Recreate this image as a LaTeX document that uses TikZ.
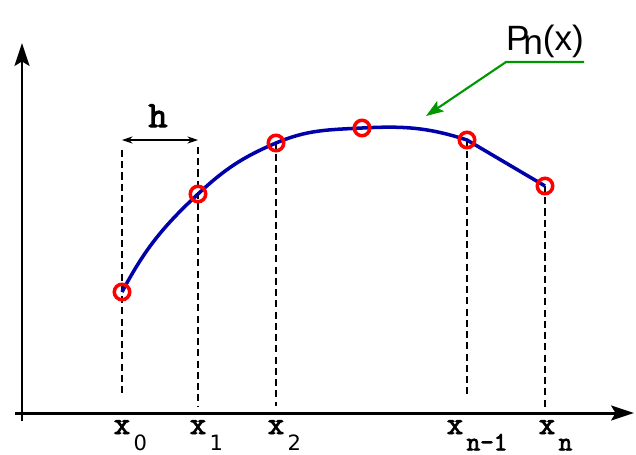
\documentclass[tikz,border=0pt]{standalone}
\usepackage{fontspec}
\usepackage{xcolor}
\usepackage{tikz}
\usetikzlibrary{arrows.meta}

\setmonofont{Latin Modern Mono}[AutoFakeBold=3]
\newfontfamily\labelsans{Liberation Sans}
\newfontfamily\digitsans{DejaVu Sans}
\definecolor{curveblue}{RGB}{0,0,170}
\definecolor{calloutgreen}{RGB}{0,150,0}
\newcommand{\lowsub}[1]{\rlap{\kern2pt\raisebox{-9.3pt}{#1}}}

\begin{document}
\begin{tikzpicture}[x=0.02cm, y=-0.02cm,
      axis/.style={line width=1.7pt, -{Stealth[length=13pt, width=8.5pt, inset=2.5pt]}},
      guide/.style={dash pattern=on 4pt off 2.4pt, line width=0.6pt},
      poly/.style={draw=curveblue, line width=2pt},
      knot/.style={circle, draw=red, line width=2pt, minimum size=8.8pt, inner sep=0pt},
      callout/.style={draw=calloutgreen, line width=1.2pt},
      xlab/.style={font=\fontsize{18}{18}\selectfont\ttfamily\bfseries, anchor=base, inner sep=0pt}]
    \useasboundingbox (0,0) rectangle (636,454);
    % axes
    \coordinate (xa) at (15,413);  \coordinate (xb) at (634,413);
    \coordinate (ya) at (22,421);  \coordinate (yb) at (22,43);
    \draw[axis] (xa) -- (xb);
    \draw[axis] (ya) -- (yb);
    % interpolation points
    \foreach \n/\px/\py in {0/122/292, 1/198/194, 2/276/143, 3/362/128, 4/467/140, 5/545/186} {
      \coordinate (c\n) at (\px,\py);
    }
    % guide lines down to the axis
    \foreach \n/\px/\ya/\yb in {0/122/150/395, 1/198/147/406, 2/276/143/406, 4/467/140/398, 5/545/186/410} {
      \coordinate (t\n) at (\px,\ya);
      \coordinate (b\n) at (\px,\yb);
      \draw[guide] (t\n) -- (b\n);
    }
    % step h
    \coordinate (ha) at (122,140);  \coordinate (hb) at (198,140);
    \draw[line width=0.6pt, {Stealth[length=6pt, width=4pt]}-{Stealth[length=6pt, width=4pt]}] (ha) -- (hb);
    \node[xlab, font=\fontsize{21}{21}\selectfont\ttfamily\bfseries] (hl) at (158,127) {h};
    % polynomial
    \draw[poly] (c0) to[out=62, in=-137] (c1) to[out=43, in=-157] (c2)
      to[out=23, in=-177] (c3) to[out=3, in=162] (c4) -- (c5);
    \foreach \n in {0,...,5} { \node[knot] (k\n) at (c\n) {}; }
    % abscissa labels
    \node[xlab] (lx0) at (122,434) {x\lowsub{\fontsize{12}{12}\selectfont\mdseries\digitsans 0}};
    \node[xlab] (lx1) at (198,434) {x\lowsub{\fontsize{12}{12}\selectfont\mdseries\digitsans 1}};
    \node[xlab] (lx2) at (276,434) {x\lowsub{\fontsize{12}{12}\selectfont\mdseries\digitsans 2}};
    \node[xlab] (lx4) at (455,434) {x\lowsub{\fontsize{15}{15}\selectfont n-1}};
    \node[xlab] (lx5) at (547,434) {x\lowsub{\fontsize{15}{15}\selectfont n}};
    % callout for P_n(x)
    \node[font=\fontsize{20}{20}\selectfont\labelsans, anchor=base, inner sep=0pt] (pn) at (545,50)
      {P\kern-0.18em\raisebox{-2.8pt}{n}(x)};
    \coordinate (gtail) at (584,62);
    \coordinate (gbend) at (506,62);
    \coordinate (gtip) at (426,116);
    \draw[callout, -{Stealth[length=10pt, width=7pt, inset=2pt]}] (gtail) -- (gbend) -- (gtip);
  \end{tikzpicture}
\end{document}
